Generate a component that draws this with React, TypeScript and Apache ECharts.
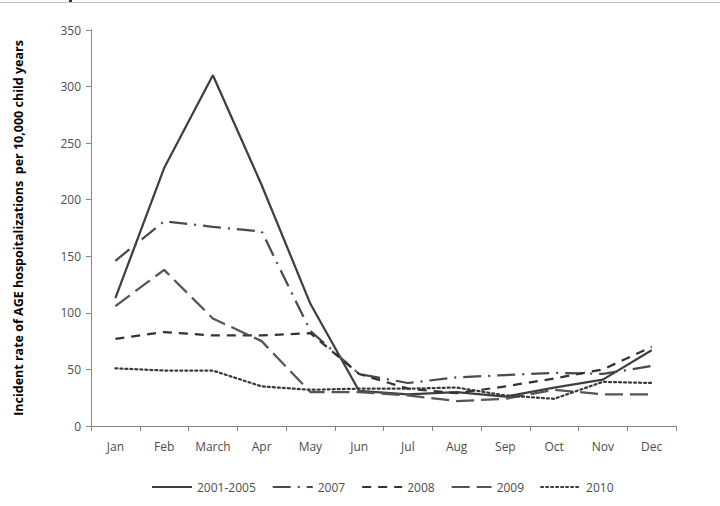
import React, { useEffect, useRef } from "react";
import * as echarts from "echarts";

const months = ["Jan", "Feb", "March", "Apr", "May", "Jun", "Jul", "Aug", "Sep", "Oct", "Nov", "Dec"];
const seriesNames = ["2001-2005", "2007", "2008", "2009", "2010"];
const v2001_2005 = [113, 228, 310, 213, 108, 31, 28, 30, 26, 34, 41, 67];
const v2007 = [146, 181, 176, 172, 84, 46, 38, 43, 45, 47, 46, 53];
const v2008 = [77, 83, 80, 80, 82, 46, 33, 29, 35, 42, 50, 70];
const v2009 = [106, 138, 95, 75, 30, 30, 27, 22, 24, 32, 28, 28];
const v2010 = [51, 49, 49, 35, 32, 33, 33, 34, 27, 24, 39, 38];

export default function App() {
  const ref = useRef<HTMLDivElement>(null);
  useEffect(() => {
    document.body.style.margin = "0";
    const chart = echarts.init(ref.current!, null, { renderer: "svg" });
    const font = "Open Sans";
    const mk = (name: string, data: number[], color: string, type: any, width = 2.25, cap: any = "butt") => ({
      name,
      type: "line",
      data,
      symbol: "none",
      showSymbol: false,
      legendIcon: "none",
      lineStyle: { color, width, type, cap },
      itemStyle: { color, opacity: 0 },
    });
    chart.setOption({
      animation: false,
      backgroundColor: "#ffffff",
      grid: { left: 91, right: 44, top: 30, bottom: 80 },
      xAxis: {
        type: "category",
        data: months,
        boundaryGap: true,
        axisLine: { lineStyle: { color: "#868686", width: 1 } },
        axisTick: { show: true, length: 5, lineStyle: { color: "#868686" } },
        axisLabel: { color: "#4d4d4d", fontFamily: font, fontSize: 12, margin: 14 },
      },
      yAxis: {
        type: "value",
        min: 0,
        max: 350,
        interval: 50,
        name: "Incident rate of AGE hospoitalizations  per 10,000 child years",
        nameLocation: "middle",
        nameGap: 66,
        nameTextStyle: { color: "#000000", fontFamily: "Open Sans", fontWeight: "bold", fontSize: 12.5 },
        splitLine: { show: false },
        axisLine: { show: true, lineStyle: { color: "#868686", width: 1 } },
        axisTick: { show: true, length: 5, lineStyle: { color: "#868686" } },
        axisLabel: { color: "#4d4d4d", fontFamily: font, fontSize: 12, margin: 10 },
      },
      legend: {
        bottom: 8,
        left: 146,
        itemWidth: 40,
        itemHeight: 10,
        itemGap: 16,
        itemStyle: { opacity: 0 },
        textStyle: { color: "#4d4d4d", fontFamily: font, fontSize: 12 },
        data: seriesNames,
      },
      graphic: [
        { type: "line", shape: { x1: 0, y1: 2.5, x2: 720, y2: 2.5 }, style: { stroke: "#bdbdbd", lineWidth: 1 } },
        { type: "rect", shape: { x: 69, y: 0, width: 3, height: 2 }, style: { fill: "#333" } },
      ],
      series: [
        mk(seriesNames[0], v2001_2005, "#3f3f3f", "solid"),
        mk(seriesNames[1], v2007, "#4a4a4a", [18, 7, 2, 7]),
        mk(seriesNames[2], v2008, "#333333", [9, 7]),
        mk(seriesNames[3], v2009, "#555555", [18, 7]),
        mk(seriesNames[4], v2010, "#3a3a3a", [2, 3], 2.25, "round"),
      ],
    });
    return () => chart.dispose();
  }, []);
  return <div ref={ref} style={{ width: 720, height: 506 }} />;
}
